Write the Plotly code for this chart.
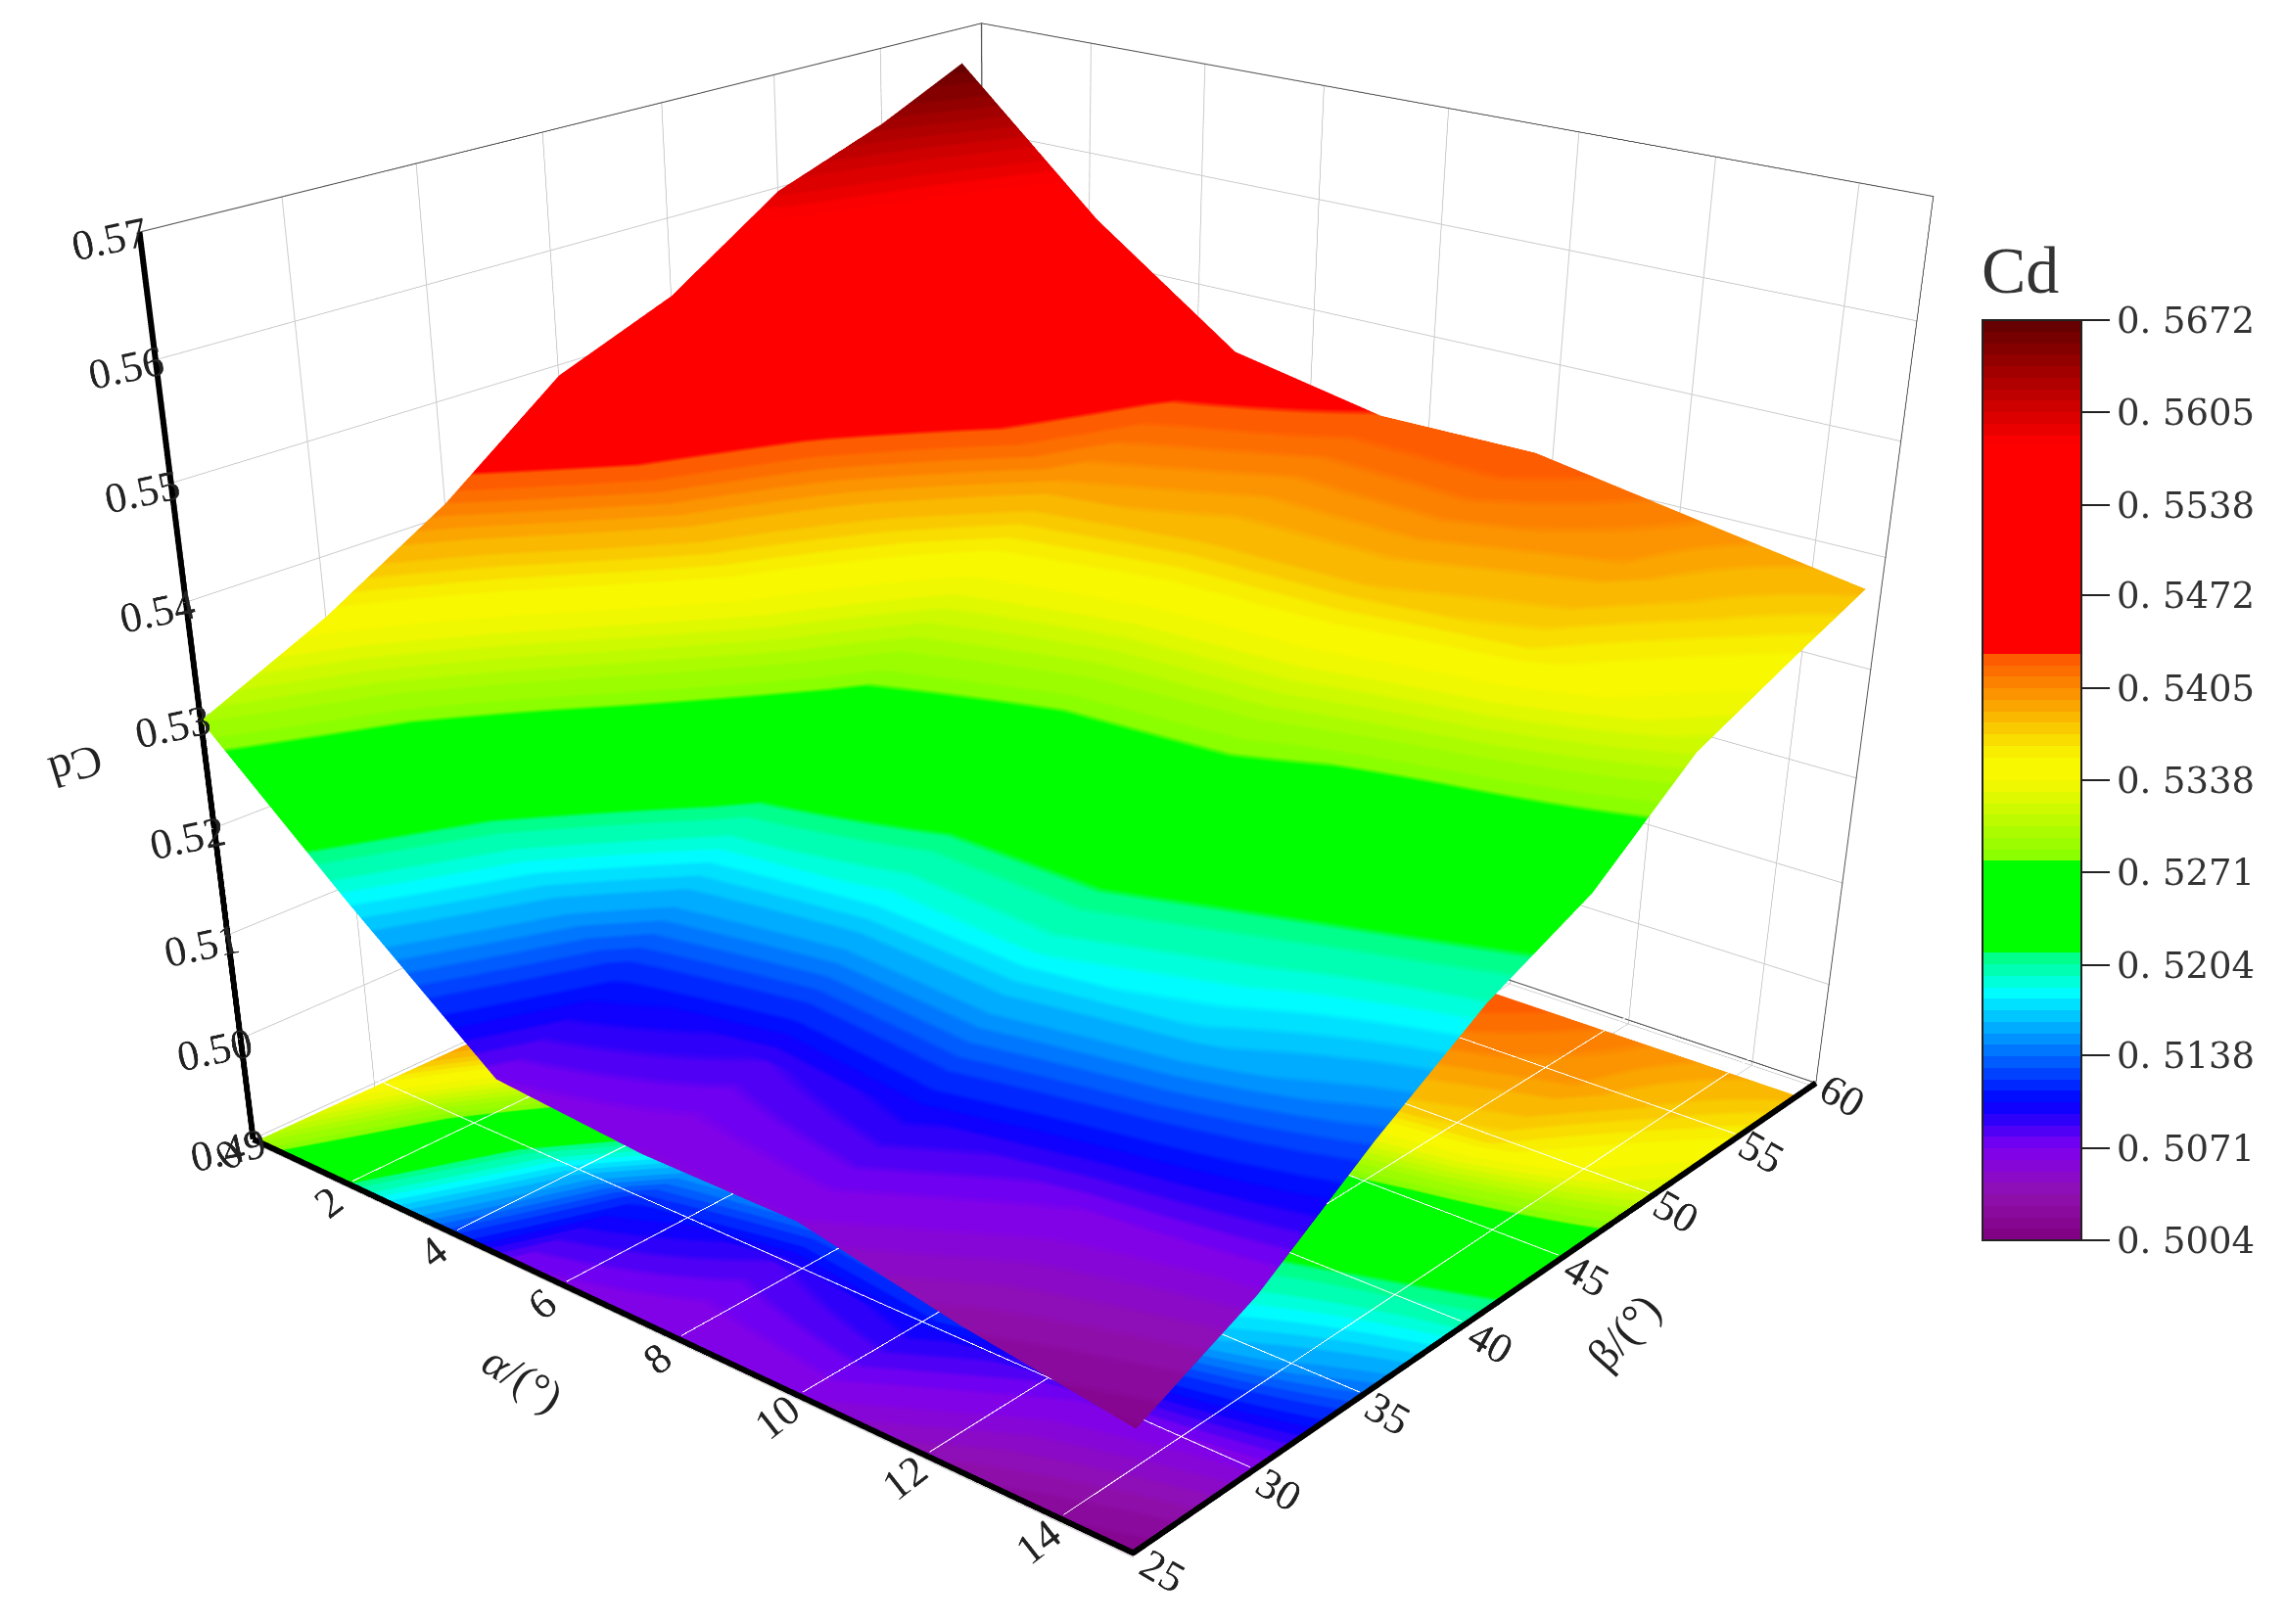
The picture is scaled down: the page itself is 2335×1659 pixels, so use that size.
import numpy as np
import plotly.graph_objects as go

# window and oversize canvas (long-lens camera: plotly's fov is fixed, so the canvas is larger than the window)
WIN_W, WIN_H = 2335, 1659
W, H = 2700, 3091
LEFT, TOP = -319, -90

alpha = [0, 2.5, 5, 7.5, 10, 12.5, 15]
beta = [25, 30, 35, 40, 45, 50, 55, 59]
cd = [
    [0.5297, 0.5348, 0.5411, 0.5491, 0.5531, 0.5597, 0.5632, 0.5668],
    [0.5181, 0.5228, 0.5304, 0.5379, 0.5422, 0.5480, 0.5513, 0.5549],
    [0.5072, 0.5113, 0.5197, 0.5266, 0.5326, 0.5395, 0.5423, 0.5455],
    [0.5061, 0.5086, 0.5182, 0.5233, 0.5302, 0.5379, 0.5406, 0.5428],
    [0.5061, 0.5100, 0.5188, 0.5232, 0.5294, 0.5378, 0.5409, 0.5428],
    [0.5032, 0.5072, 0.5169, 0.5213, 0.5259, 0.5363, 0.5395, 0.5404],
    [0.5010, 0.5059, 0.5131, 0.5194, 0.5238, 0.5313, 0.5351, 0.5380],
]
alpha_range = [0, 15]
beta_range = [25, 60]
z_range = [0.49, 0.57]
alpha_ticks = [0, 2, 4, 6, 8, 10, 12, 14]
beta_ticks = [25, 30, 35, 40, 45, 50, 55, 60]
z_ticks = [0.49, 0.50, 0.51, 0.52, 0.53, 0.54, 0.55, 0.56, 0.57]
cbar_vals = [0.5004, 0.5071, 0.5138, 0.5204, 0.5271, 0.5338, 0.5405, 0.5472, 0.5538, 0.5605, 0.5672]
cbar_text = ['0. 5004', '0. 5071', '0. 5138', '0. 5204', '0. 5271', '0. 5338', '0. 5405', '0. 5472', '0. 5538', '0. 5605', '0. 5672']

stops = [(0, '#800080'), (.05, '#9010b0'), (.10, '#8000f0'), (.15, '#0000ff'), (.27, '#00ffff'), (.31, '#00ff80'),
         (.3101, '#00ff00'), (.41, '#00ff00'), (.4101, '#80ff00'), (.50, '#f8f800'), (.525, '#f8f800'), (.6399, '#ff5000'),
         (.64, '#ff0000'), (.865, '#ff0000'), (1, '#600000')]
xs = [s[0] for s in stops]
rgb = np.array([[int(s[1][k:k+2], 16) for k in (1, 3, 5)] for s in stops], float)
def col(t):
    return 'rgb(%d,%d,%d)' % tuple(np.interp(t, xs, rgb[:, k]) for k in range(3))
n = 80
cs = []
for i in range(n):
    c = col((i+.5)/n)
    cs += [[i/n, c], [(i+1)/n, c]]

Z = np.array(cd).T
flat = dict(ambient=1, diffuse=0, specular=0, roughness=1, fresnel=0)
TITLE_H = 80
surf = go.Surface(x=alpha, y=beta, z=Z, surfacecolor=Z, colorscale=cs, cmin=.5004, cmax=.5672, lighting=flat, hoverinfo='skip',
    colorbar=dict(x=(2025-LEFT)/W, xanchor='left', xpad=0, ypad=0, y=1-(326-TITLE_H-TOP)/H, yanchor='top',
        thickness=101, thicknessmode='pixels', len=941+TITLE_H, lenmode='pixels',
        tickmode='array', tickvals=cbar_vals, ticktext=cbar_text,
        ticks='outside', ticklen=28, tickwidth=2, tickcolor='#222', outlinewidth=2, outlinecolor='#222',
        tickfont=dict(family='DejaVu Serif', size=37, color='#333'),
        title=dict(text='Cd', side='top', font=dict(family='Liberation Serif', size=68, color='#333'))))
a0, a1 = alpha_range
b0, b1 = beta_range
z0, z1 = z_range
floor = go.Surface(x=alpha, y=beta, z=np.full_like(Z, z0-.0003), surfacecolor=Z, colorscale=cs, cmin=.5004, cmax=.5672,
    showscale=False, lighting=flat, hoverinfo='skip')

def line(segments, color, width):
    x, y, z = [], [], []
    for s in segments:
        for q in s:
            x.append(q[0]); y.append(q[1]); z.append(q[2])
        x.append(None); y.append(None); z.append(None)
    return go.Scatter3d(x=x, y=y, z=z, mode='lines', line=dict(color=color, width=width), hoverinfo='skip', showlegend=False)

thick = line([[(a0, b0, z0), (a1, b0, z0), (a1, b1, z0)], [(a0, b0, z0), (a0, b0, z1)]], 'black', 12)
thin = line([[(a0, b0, z1), (a0, b1, z1), (a1, b1, z1), (a1, b1, z0), (a0, b1, z0)], [(a0, b1, z1), (a0, b1, z0)]], '#555', 2)
zf = z0+.0005
floor_grid = line([[(t, b0, zf), (t, b1, zf)] for t in alpha_ticks[1:]] + [[(a0, t, zf), (a1, t, zf)] for t in beta_ticks[1:-1]],
                  'rgba(255,255,255,.55)', 2)

fig = go.Figure([surf, floor, thin, floor_grid, thick])
ax = dict(showbackground=False, gridcolor='#cccccc', gridwidth=2, zeroline=False, showline=False, ticks='outside', tickcolor='rgba(0,0,0,0)', showspikes=False,
          tickfont=dict(family='Liberation Serif', size=23, color='#222'))
EPS_A, EPS_B, EPS_Z = .01, .02, .00005
tf = dict(family='Liberation Serif', size=46, color='#222')
fig.update_layout(width=W, height=H, margin=dict(l=0, r=0, t=0, b=0), paper_bgcolor='white', showlegend=False,
    scene=dict(domain=dict(x=[0, 1], y=[0, 1]), aspectmode='manual', aspectratio=dict(x=1, y=.9937, z=.7925),
        camera=dict(eye=dict(x=1.8670, y=-2.2444, z=1.1290), center=dict(x=.0294, y=-.0846, z=-.6734), up=dict(x=0, y=0, z=1)),
        xaxis=dict(ax, range=[a0-EPS_A, a1+EPS_A], ticklen=9, tickvals=alpha_ticks, ticktext=[str(t) for t in alpha_ticks], tickangle=-38, title=dict(text='')),
        yaxis=dict(ax, range=[b0-EPS_B, b1+EPS_B], ticklen=10, tickvals=beta_ticks, ticktext=[str(t) for t in beta_ticks], tickangle=30, title=dict(text='')),
        zaxis=dict(ax, range=[z0-.0004, z1+EPS_Z], ticklen=300, tickvals=z_ticks, ticktext=['%.2f' % t for t in z_ticks], tickangle=-12, title=dict(text='')),
        annotations=[
            dict(x=6, y=b0, z=z0, text='<i>α</i>/(°)', showarrow=False, textangle=32, xshift=-45, yshift=-94, font=tf),
            dict(x=a1, y=45, z=z0, text='β/(°)', showarrow=False, textangle=-48, xshift=67, yshift=-73, font=tf),
            dict(x=a0, y=b0, z=.525, text='Cd', showarrow=False, textangle=163, xshift=-134, yshift=7, font=tf),
        ]))
post = ("document.documentElement.style.overflow='hidden';document.body.style.margin='0';document.body.style.overflow='hidden';"
        "var g=document.getElementById('{plot_id}');g.style.position='absolute';g.style.left='%dpx';g.style.top='%dpx';" % (LEFT, TOP))
fig.write_html("out.html", post_script=post)
